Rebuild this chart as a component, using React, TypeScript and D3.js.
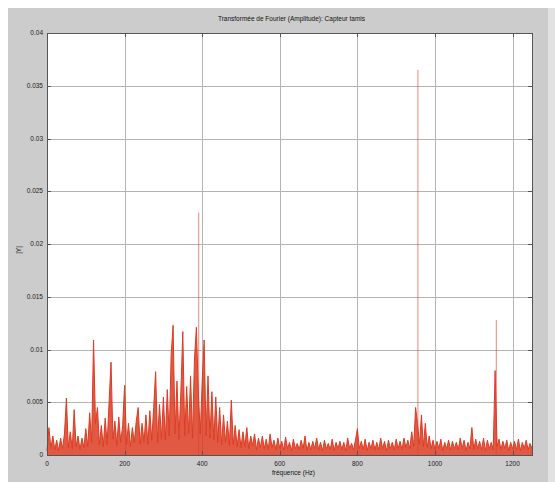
// App.tsx
import * as d3 from 'd3';
import React, { useRef, useEffect } from 'react';

// frequency step of the spectrum samples (Hz)
const stepHz = 5;

// amplitude |Y| in units of 1e-4, one value per 5 Hz from 0 to 1250 Hz
const ampE4 = [
  4, 26, 6, 18, 5, 14, 4, 16, 6, 20,
  54, 7, 22, 6, 43, 8, 18, 5, 16, 7,
  25, 8, 40, 12, 109, 30, 45, 10, 28, 8,
  35, 10, 50, 88, 15, 32, 9, 36, 12, 28,
  66, 10, 30, 8, 26, 12, 32, 45, 10, 30,
  12, 38, 10, 42, 14, 45, 79, 12, 48, 15,
  55, 14, 62, 18, 95, 123, 20, 70, 15, 60,
  117, 18, 65, 20, 75, 16, 90, 121, 60, 20,
  70, 109, 18, 75, 16, 60, 14, 55, 12, 45,
  10, 38, 12, 32, 9, 52, 10, 28, 8, 24,
  7, 22, 8, 26, 6, 18, 9, 20, 5, 16,
  7, 18, 6, 15, 5, 20, 7, 14, 5, 16,
  6, 13, 5, 17, 6, 12, 4, 15, 6, 11,
  5, 14, 6, 18, 4, 12, 5, 13, 6, 16,
  5, 12, 4, 14, 6, 11, 5, 15, 4, 12,
  6, 13, 5, 12, 4, 16, 6, 11, 5, 14,
  25, 6, 13, 5, 15, 4, 12, 6, 14, 5,
  12, 5, 16, 6, 13, 4, 14, 6, 12, 5,
  15, 6, 13, 5, 16, 7, 14, 6, 22, 8,
  45, 30, 10, 38, 8, 30, 7, 18, 6, 14,
  5, 13, 6, 15, 4, 12, 6, 14, 5, 13,
  6, 12, 5, 16, 6, 14, 4, 12, 6, 26,
  5, 15, 6, 13, 5, 16, 4, 14, 6, 12,
  5, 80, 8, 15, 5, 13, 6, 14, 4, 12,
  6, 13, 5, 15, 4, 12, 6, 14, 5, 11,
  6,
];

// narrow tones (single-bin spikes) drawn as thin stems
const toneHz = [391, 956, 1158];
const toneAmp = [0.023, 0.0365, 0.0128];

const xTicks = [0, 200, 400, 600, 800, 1000, 1200];
const yTicks = [0, 0.005, 0.01, 0.015, 0.02, 0.025, 0.03, 0.035, 0.04];
const yTickLabels = ['0', '0.005', '0.01', '0.015', '0.02', '0.025', '0.03', '0.035', '0.04'];

const title = 'Transformée de Fourier (Amplitude): Capteur tamis';
const xLabel = 'fréquence (Hz)';
const yLabel = '|Y|';

function App() {
  const ref = useRef<SVGSVGElement>(null);

  useEffect(() => {
    const width = 555;
    const height = 482;
    const plot = { left: 47, right: 532, top: 33, bottom: 455 };
    const font = 'Liberation Sans, Arial, sans-serif';
    const red = '#dc3c22';

    const data = ampE4.map((v, i) => ({ f: i * stepHz, y: v * 1e-4 }));

    const svg = d3.select(ref.current);
    svg.selectAll('*').remove();

    // figure background
    svg.append('rect').attr('width', width).attr('height', height).attr('fill', '#ffffff');
    svg.append('rect').attr('x', 8).attr('y', 8).attr('width', 540).attr('height', height - 8).attr('fill', '#cccccc');
    svg.append('rect').attr('x', 548).attr('y', 8).attr('width', 7).attr('height', height - 8).attr('fill', '#e2e2e2');

    const x = d3.scaleLinear().domain([0, 1250]).range([plot.left, plot.right]);
    const y = d3.scaleLinear().domain([0, 0.04]).range([plot.bottom, plot.top]);

    svg.append('rect')
      .attr('x', plot.left).attr('y', plot.top)
      .attr('width', plot.right - plot.left).attr('height', plot.bottom - plot.top)
      .attr('fill', '#ffffff');

    // grid
    const grid = svg.append('g').attr('stroke', '#b3b3b3').attr('stroke-width', 1);
    grid.selectAll('line.v')
      .data(xTicks.slice(1))
      .enter().append('line')
      .attr('x1', d => Math.round(x(d)) + 0.5).attr('x2', d => Math.round(x(d)) + 0.5)
      .attr('y1', plot.top).attr('y2', plot.bottom);
    grid.selectAll('line.h')
      .data(yTicks.slice(1, -1))
      .enter().append('line')
      .attr('y1', d => Math.round(y(d)) + 0.5).attr('y2', d => Math.round(y(d)) + 0.5)
      .attr('x1', plot.left).attr('x2', plot.right);

    // thin tone stems
    svg.append('g').selectAll('line')
      .data(toneHz)
      .enter().append('line')
      .attr('x1', d => x(d)).attr('x2', d => x(d))
      .attr('y1', y(0)).attr('y2', (d, i) => y(toneAmp[i]))
      .attr('stroke', red)
      .attr('stroke-opacity', 0.6)
      .attr('stroke-width', 1);

    // spectrum: filled under the trace, then the trace itself
    const area = d3.area<{ f: number; y: number }>()
      .x(d => x(d.f))
      .y0(y(0))
      .y1(d => y(d.y));
    svg.append('path')
      .datum(data)
      .attr('d', area)
      .attr('fill', red)
      .attr('fill-opacity', 0.85);
    const line = d3.line<{ f: number; y: number }>()
      .x(d => x(d.f))
      .y(d => y(d.y));
    svg.append('path')
      .datum(data)
      .attr('d', line)
      .attr('fill', 'none')
      .attr('stroke', red)
      .attr('stroke-width', 1)
      .attr('stroke-linejoin', 'miter');

    // frame
    svg.append('rect')
      .attr('x', plot.left + 0.5).attr('y', plot.top + 0.5)
      .attr('width', plot.right - plot.left).attr('height', plot.bottom - plot.top)
      .attr('fill', 'none').attr('stroke', '#555').attr('stroke-width', 1);

    // ticks (inward, both sides)
    const tk = svg.append('g').attr('stroke', '#555').attr('stroke-width', 1);
    xTicks.forEach(t => {
      const px = Math.round(x(t)) + 0.5;
      tk.append('line').attr('x1', px).attr('x2', px).attr('y1', plot.bottom).attr('y2', plot.bottom - 4);
      tk.append('line').attr('x1', px).attr('x2', px).attr('y1', plot.top).attr('y2', plot.top + 4);
    });
    yTicks.forEach(t => {
      const py = Math.round(y(t)) + 0.5;
      tk.append('line').attr('x1', plot.left).attr('x2', plot.left + 4).attr('y1', py).attr('y2', py);
      tk.append('line').attr('x1', plot.right).attr('x2', plot.right - 4).attr('y1', py).attr('y2', py);
    });

    // tick labels
    svg.append('g').selectAll('text')
      .data(xTicks)
      .enter().append('text')
      .attr('x', d => x(d)).attr('y', plot.bottom + 11)
      .attr('text-anchor', 'middle')
      .attr('font-family', font).attr('font-size', 6.5).attr('fill', '#222')
      .text(d => String(d));
    svg.append('g').selectAll('text')
      .data(yTicks)
      .enter().append('text')
      .attr('x', plot.left - 4).attr('y', d => y(d) + 2.2)
      .attr('text-anchor', 'end')
      .attr('font-family', font).attr('font-size', 6.5).attr('fill', '#222')
      .text((d, i) => yTickLabels[i]);

    // labels
    svg.append('text')
      .attr('x', (plot.left + plot.right) / 2 + 2).attr('y', 21)
      .attr('text-anchor', 'middle')
      .attr('font-family', font).attr('font-size', 6.5).attr('fill', '#111')
      .text(title);
    svg.append('text')
      .attr('x', (plot.left + plot.right) / 2 + 4).attr('y', 475)
      .attr('text-anchor', 'middle')
      .attr('font-family', font).attr('font-size', 6.5).attr('fill', '#111')
      .text(xLabel);
    svg.append('text')
      .attr('transform', 'translate(21,250) rotate(-90)')
      .attr('text-anchor', 'middle')
      .attr('font-family', font).attr('font-size', 6.5).attr('fill', '#111')
      .text(yLabel);
  }, []);

  return (
    <svg ref={ref} width={555} height={482}
      style={{ position: 'absolute', left: 0, top: 0, display: 'block' }} />
  );
}

export default App;
